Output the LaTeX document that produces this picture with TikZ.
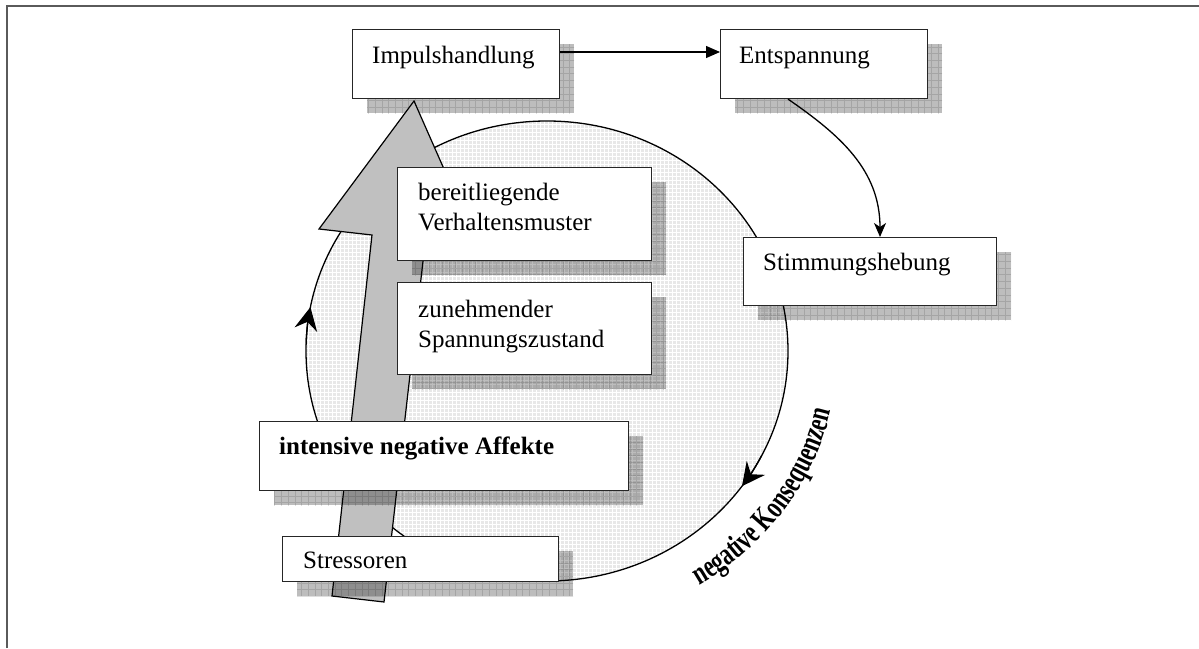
\documentclass[tikz,border=0pt]{standalone}
\usepackage{fontspec}
\setmainfont{Liberation Serif}
\newfontfamily\kfont[FakeStretch=0.7]{Liberation Serif}
\usetikzlibrary{arrows.meta,calc,decorations.text}
\definecolor{framegray}{HTML}{5A5A5A}
\definecolor{arrowgray}{HTML}{C0C0C0}
\newcommand\shadowgrid[4]{%
  \fill[black,opacity=.26] (#1+15,#2+15) rectangle ++(#3,#4);
  \begin{scope}
    \clip (#1+15,#2+15) rectangle ++(#3,#4);
    \draw[black,opacity=.13,line width=.5pt,step=6.7pt] (#1,#2) grid ++(#3+30,#4+30);
  \end{scope}}
\newcommand\shbox[5]{%
  \shadowgrid{#1}{#2}{#3}{#4}
  \node[box, minimum width=#3, minimum height=#4, anchor=north west] (#5) at (#1,#2) {};}
\begin{document}
\begin{tikzpicture}[x=1pt,y=-1pt,
  box/.style={draw=black!85, fill=white, line width=1.1pt, rectangle, inner sep=0pt},
  lbl/.style={inner sep=0pt, anchor=base west, font=\fontsize{25}{30}\selectfont, text=black},
  lbltwo/.style={lbl, text width=250pt, align=left},
  conn/.style={line width=1.3pt, draw=black},
  circline/.style={line width=1.3pt, draw=black},
  circtip/.style={line width=1.3pt, -{Stealth[length=23pt,width=23pt,inset=8pt]}},
  bigarrow/.style={draw=black, line width=1.2pt, fill=arrowgray, line join=miter},
  frame/.style={draw=framegray, line width=2pt}]
\useasboundingbox (0,0) rectangle (1199,648);
% frame
\draw[frame] (7,648) -- (7,6) -- (1199,6);
% cycle
\coordinate (cc) at (547,351);
\begin{scope}
  \clip (cc) ellipse [x radius=241, y radius=230];
  \fill[black!9] (300,110) rectangle (800,600);
  \draw[white, line width=.7pt, step=4pt] (300,110) grid (800,600);
\end{scope}
\draw[circline] (cc) ellipse [x radius=241, y radius=230];
\draw[circtip] (cc) ++(-178:241 and 230) arc[start angle=-178, end angle=-169, x radius=241, y radius=230];
\draw[circtip] (cc) ++(27:241 and 230) arc[start angle=27, end angle=36, x radius=241, y radius=230];
\path[decorate, decoration={text along path, text align=center,
   text={|\kfont\bfseries\fontsize{32}{32}\selectfont|negative Konsequenzen}}]
  (cc) ++(59:291 and 275) arc[start angle=59, end angle=12, x radius=291, y radius=275];
% top boxes
\shbox{352}{29}{207}{69}{imp}
\node[lbl] (timp) at ($(imp.north west)+(20,34)$) {Impulshandlung};
\shbox{720}{29}{207}{69}{ent}
\node[lbl] (tent) at ($(ent.north west)+(19,34)$) {Entspannung};
% big arrow
\draw[bigarrow] (332,596) -- (384,602) -- (426,235) -- (470,228) -- (414,101) -- (319,229) -- (372,235) -- cycle;
% other boxes
\shbox{743}{237}{253}{68}{stim}
\node[lbl] (tstim) at ($(stim.north west)+(20,33)$) {Stimmungshebung};
\shbox{397}{167}{254}{93}{ber}
\node[lbltwo] (tber) at ($(ber.north west)+(21,33)$) {bereitliegende\\Verhaltensmuster};
\shbox{397}{282}{254}{92}{zun}
\node[lbltwo] (tzun) at ($(zun.north west)+(21,35)$) {zunehmender\\Spannungszustand};
\shbox{259}{421}{369}{69}{int}
\node[lbl, font=\fontsize{25}{30}\selectfont\bfseries] (tint) at ($(int.north west)+(20,33)$) {intensive negative Affekte};
\shbox{282}{536}{276}{45}{str}
\node[lbl] (tstr) at ($(str.north west)+(21,32)$) {Stressoren};
% connectors
\draw[conn, -{Triangle[length=14pt,width=12pt]}] ($(imp.north east)+(0,23)$) -- ($(ent.north west)+(0,23)$);
\draw[conn, -{Stealth[length=14pt,width=12pt,inset=4pt]}] ($(ent.south west)+(68,0)$) .. controls (840,135) and (880,170) .. ($(stim.north west)+(137,0)$);
\end{tikzpicture}
\end{document}
